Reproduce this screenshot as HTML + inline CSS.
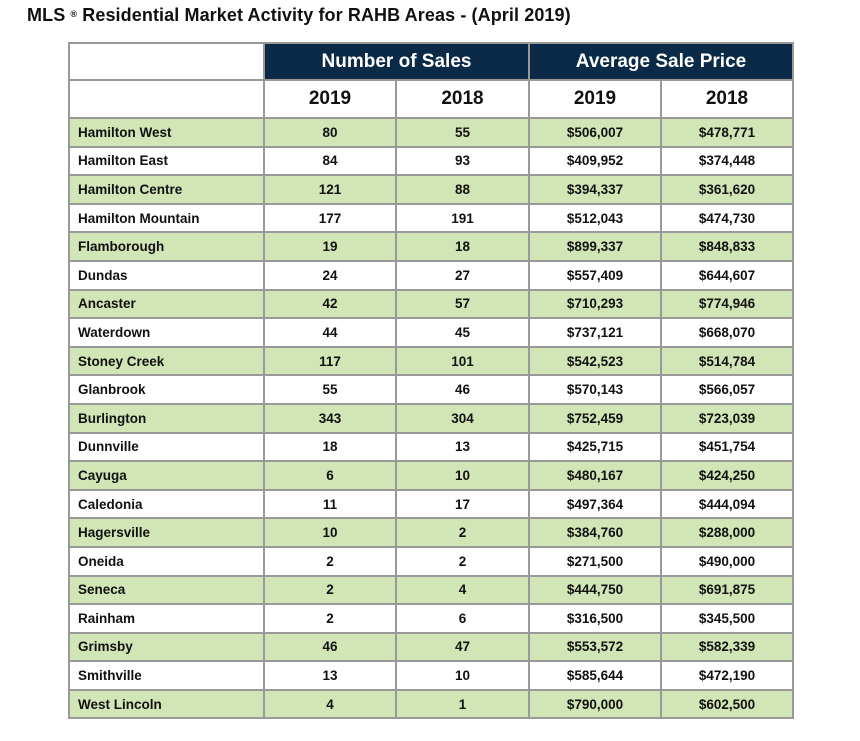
<!DOCTYPE html>
<html><head><style>
body{margin:0;width:860px;height:741px;background:#fff;font-family:"Liberation Sans",Arial,sans-serif;position:relative;overflow:hidden}
.t{position:absolute;left:27px;top:5px;font-size:18px;font-weight:bold;color:#111;letter-spacing:0.1px}
.t sup{font-size:9px;vertical-align:4px}
table{position:absolute;left:68px;top:42px;border-collapse:collapse;table-layout:fixed;width:724px}
td{border:2px solid #999;padding:0;font-size:13.5px;font-weight:bold;text-align:center;color:#111;overflow:hidden;white-space:nowrap}
td.n{text-align:left;padding-left:8px}
tr.h td{height:35px;background:#0b2a47;color:#fff;font-size:19px}
tr.h td.e{background:#fff}
tr.y td{height:36px;font-size:19px}
tr.d td{height:26.6px}
tr.g td{background:#d1e5b6}
</style></head><body>
<div class="t">MLS <sup>®</sup> Residential Market Activity for RAHB Areas - (April 2019)</div>
<table>
<colgroup><col style="width:195px"><col style="width:132px"><col style="width:133px"><col style="width:132px"><col style="width:132px"></colgroup>
<tr class="h"><td class="e"></td><td colspan="2">Number of Sales</td><td colspan="2">Average Sale Price</td></tr>
<tr class="y"><td></td><td>2019</td><td>2018</td><td>2019</td><td>2018</td></tr>
<tr class="d g"><td class="n">Hamilton West</td><td>80</td><td>55</td><td>$506,007</td><td>$478,771</td></tr>
<tr class="d"><td class="n">Hamilton East</td><td>84</td><td>93</td><td>$409,952</td><td>$374,448</td></tr>
<tr class="d g"><td class="n">Hamilton Centre</td><td>121</td><td>88</td><td>$394,337</td><td>$361,620</td></tr>
<tr class="d"><td class="n">Hamilton Mountain</td><td>177</td><td>191</td><td>$512,043</td><td>$474,730</td></tr>
<tr class="d g"><td class="n">Flamborough</td><td>19</td><td>18</td><td>$899,337</td><td>$848,833</td></tr>
<tr class="d"><td class="n">Dundas</td><td>24</td><td>27</td><td>$557,409</td><td>$644,607</td></tr>
<tr class="d g"><td class="n">Ancaster</td><td>42</td><td>57</td><td>$710,293</td><td>$774,946</td></tr>
<tr class="d"><td class="n">Waterdown</td><td>44</td><td>45</td><td>$737,121</td><td>$668,070</td></tr>
<tr class="d g"><td class="n">Stoney Creek</td><td>117</td><td>101</td><td>$542,523</td><td>$514,784</td></tr>
<tr class="d"><td class="n">Glanbrook</td><td>55</td><td>46</td><td>$570,143</td><td>$566,057</td></tr>
<tr class="d g"><td class="n">Burlington</td><td>343</td><td>304</td><td>$752,459</td><td>$723,039</td></tr>
<tr class="d"><td class="n">Dunnville</td><td>18</td><td>13</td><td>$425,715</td><td>$451,754</td></tr>
<tr class="d g"><td class="n">Cayuga</td><td>6</td><td>10</td><td>$480,167</td><td>$424,250</td></tr>
<tr class="d"><td class="n">Caledonia</td><td>11</td><td>17</td><td>$497,364</td><td>$444,094</td></tr>
<tr class="d g"><td class="n">Hagersville</td><td>10</td><td>2</td><td>$384,760</td><td>$288,000</td></tr>
<tr class="d"><td class="n">Oneida</td><td>2</td><td>2</td><td>$271,500</td><td>$490,000</td></tr>
<tr class="d g"><td class="n">Seneca</td><td>2</td><td>4</td><td>$444,750</td><td>$691,875</td></tr>
<tr class="d"><td class="n">Rainham</td><td>2</td><td>6</td><td>$316,500</td><td>$345,500</td></tr>
<tr class="d g"><td class="n">Grimsby</td><td>46</td><td>47</td><td>$553,572</td><td>$582,339</td></tr>
<tr class="d"><td class="n">Smithville</td><td>13</td><td>10</td><td>$585,644</td><td>$472,190</td></tr>
<tr class="d g"><td class="n">West Lincoln</td><td>4</td><td>1</td><td>$790,000</td><td>$602,500</td></tr>
</table>
</body></html>
